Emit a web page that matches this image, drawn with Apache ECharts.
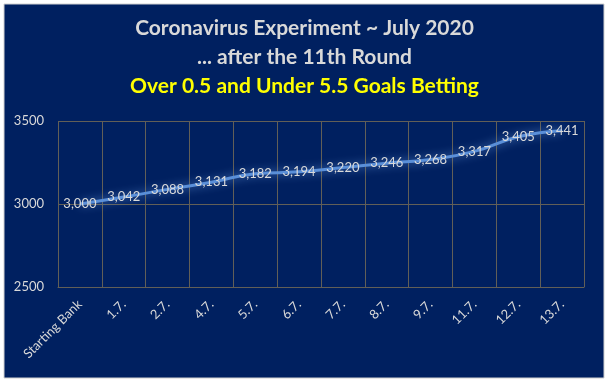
<!DOCTYPE html>
<html><head><meta charset="utf-8">
<script src="https://cdn.jsdelivr.net/npm/echarts@6/dist/echarts.min.js"></script>
<style>html,body{margin:0;padding:0;background:#fff}#c{width:609px;height:382px}</style>
</head><body><div id="c"></div>
<script>
const categories = ["Starting Bank","1.7.","2.7.","4.7.","5.7.","6.7.","7.7.","8.7.","9.7.","11.7.","12.7.","13.7."];
const bankValues = [3000,3042,3088,3131,3182,3194,3220,3246,3268,3317,3405,3441];
const titleLines = ["Coronavirus Experiment ~ July 2020","... after the 11th Round"];
const subtitleLine = "Over 0.5 and Under 5.5 Goals Betting";

const chart = echarts.init(document.getElementById('c'));
const font = 'Lato, "Open Sans", sans-serif';
const gridColor = '#625f57';
chart.setOption({
  backgroundColor: '#ffffff',
  animation: false,
  graphic: [
    {type:'rect', shape:{x:4,y:4,width:600,height:374}, style:{fill:'#002060', stroke:'#d0d0d0', lineWidth:1}, z:-10},
    {type:'text', left:'center', top:18, style:{text:titleLines[0], fill:'#d9d9d9', font:'bold 21px '+font}},
    {type:'text', left:'center', top:47, style:{text:titleLines[1], fill:'#d9d9d9', font:'bold 21px '+font}},
    {type:'text', left:'center', top:76, style:{text:subtitleLine, fill:'#ffff00', font:'bold 21px '+font}}
  ],
  grid: {left:58, right:25, top:121, bottom:95},
  xAxis: {
    type:'category', data:categories, boundaryGap:true,
    axisLine:{show:true, lineStyle:{color:gridColor}},
    axisTick:{show:false},
    splitLine:{show:true, interval:0, lineStyle:{color:gridColor, width:1}},
    axisLabel:{interval:0, rotate:45, color:'#d9d9d9', fontFamily:font, fontSize:13, margin:15}
  },
  yAxis: {
    type:'value', min:2500, max:3500, interval:500,
    axisLine:{show:false}, axisTick:{show:false},
    splitLine:{show:true, lineStyle:{color:gridColor, width:1}},
    axisLabel:{color:'#d9d9d9', fontFamily:font, fontSize:13, margin:14, formatter: v => String(v)}
  },
  series: [{
    type:'line', data:bankValues, smooth:true,
    symbol:'circle', symbolSize:1, itemStyle:{color:'#5a8fd8'},
    lineStyle:{color:'#5a8fd8', width:3, shadowColor:'rgba(110,160,230,0.8)', shadowBlur:10},
    label:{show:true, position:'inside', color:'#d9d9d9', fontFamily:font, fontSize:13,
      formatter: p => p.value.toLocaleString('en-US')}
  }]
});
</script></body></html>
